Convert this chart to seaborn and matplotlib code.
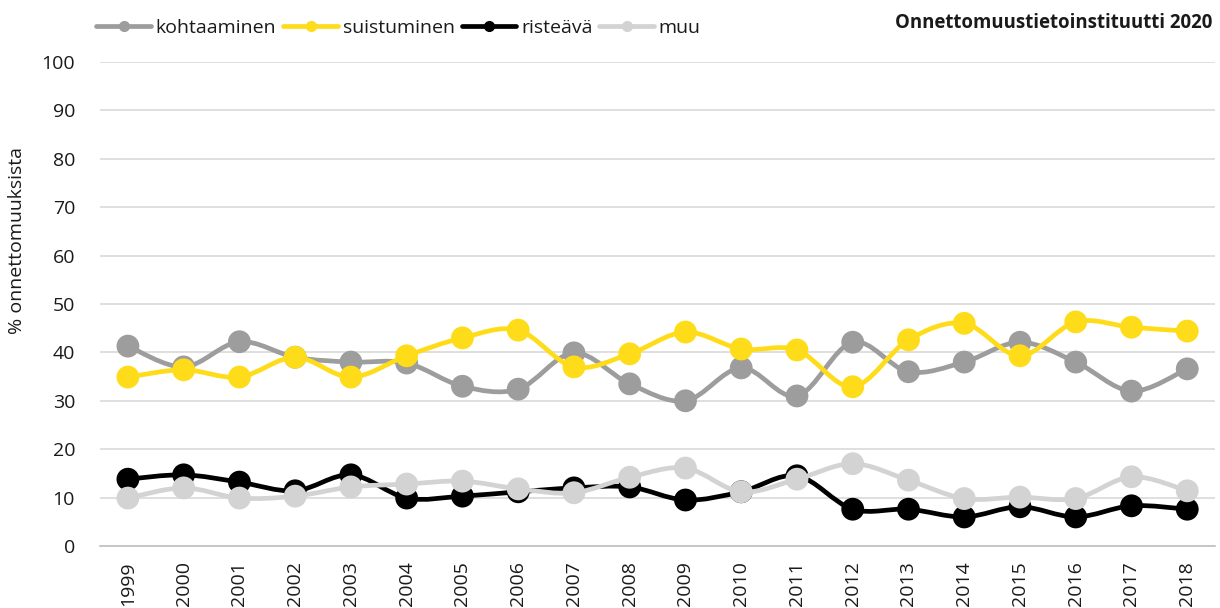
import numpy as np
import pandas as pd
import matplotlib
matplotlib.use("Agg")
import matplotlib.pyplot as plt
from matplotlib.path import Path
from matplotlib.patches import PathPatch
from matplotlib.lines import Line2D
import seaborn as sns

# Data
vuodet = [str(v) for v in range(1999, 2019)]
kohtaaminen = [41.3, 37.0, 42.2, 39.0, 38.0, 37.8, 33.0, 32.4, 39.9, 33.5,
               30.0, 36.8, 31.0, 42.1, 36.0, 38.0, 42.1, 38.0, 32.0, 36.6]
suistuminen = [34.9, 36.4, 34.9, 39.0, 34.9, 39.3, 43.0, 44.6, 37.0, 39.7,
               44.2, 40.7, 40.5, 32.9, 42.6, 46.0, 39.3, 46.3, 45.2, 44.4]
risteava = [13.8, 14.7, 13.2, 11.4, 14.7, 9.9, 10.3, 11.2, 12.0, 12.2,
            9.5, 11.2, 14.5, 7.6, 7.6, 6.0, 8.1, 6.0, 8.3, 7.6]
muu = [9.9, 12.0, 9.9, 10.3, 12.2, 12.8, 13.4, 11.8, 11.0, 14.2,
       16.1, 11.2, 13.8, 17.0, 13.6, 9.8, 10.1, 9.8, 14.3, 11.4]

sarjat = ["kohtaaminen", "suistuminen", "risteävä", "muu"]
varit = {"kohtaaminen": "#9d9d9d", "suistuminen": "#ffdc1a",
         "risteävä": "#000000", "muu": "#d3d3d3"}

df = pd.DataFrame({"vuosi": vuodet, "kohtaaminen": kohtaaminen,
                   "suistuminen": suistuminen, "risteävä": risteava, "muu": muu})
pitka = df.melt(id_vars="vuosi", var_name="tyyppi", value_name="osuus")

sns.set_style("white")
plt.rcParams['font.family'] = ['Open Sans', 'DejaVu Sans']
plt.rcParams['text.color'] = '#1a1a1a'

fig = plt.figure(figsize=(12.2, 6.08), dpi=100)
ax = fig.add_axes([0.082, 0.102, 0.914, 0.796])


def pehmea_polku(x, y):
    # Excel-tyylinen pehmennetty viiva Bezier-käyrinä
    x = np.asarray(x, float)
    y = np.asarray(y, float)
    verts = [(x[0], y[0])]
    codes = [Path.MOVETO]
    n = len(x)
    for i in range(n - 1):
        x0, y0 = (x[i - 1], y[i - 1]) if i > 0 else (x[i], y[i])
        x3, y3 = (x[i + 2], y[i + 2]) if i + 2 < n else (x[i + 1], y[i + 1])
        c1 = (x[i] + (x[i + 1] - x0) / 6, y[i] + (y[i + 1] - y0) / 6)
        c2 = (x[i + 1] - (x3 - x[i]) / 6, y[i + 1] - (y3 - y[i]) / 6)
        verts += [c1, c2, (x[i + 1], y[i + 1])]
        codes += [Path.CURVE4] * 3
    return Path(verts, codes)


xpos = np.arange(len(vuodet))
for j, s in enumerate(sarjat):
    polku = pehmea_polku(xpos, df[s].values)
    ax.add_patch(PathPatch(polku, facecolor="none", edgecolor=varit[s],
                           lw=3.4, zorder=2 + j * 2, capstyle="round"))
    osa = pitka[pitka["tyyppi"] == s]
    sns.scatterplot(data=osa, x="vuosi", y="osuus", color=varit[s], s=270,
                    edgecolor="none", ax=ax, zorder=3 + j * 2, legend=False)

ax.set_xlim(-0.5, len(vuodet) - 0.5)
ax.set_ylim(0, 100)
ax.set_yticks(range(0, 101, 10))
ax.yaxis.grid(True, color="#d9d9d9", lw=1.2)
ax.set_axisbelow(True)
for sp in ["left", "right", "top"]:
    ax.spines[sp].set_visible(False)
ax.spines["bottom"].set_color("#bfbfbf")
ax.spines["bottom"].set_linewidth(1.2)
ax.tick_params(axis="x", rotation=90, labelsize=14, length=0, pad=11,
               labelcolor="#1a1a1a")
ax.tick_params(axis="y", labelsize=14, length=0, pad=18, labelcolor="#1a1a1a")
ax.set_xlabel("")
ax.set_ylabel("% onnettomuuksista", fontsize=14, color="#1a1a1a")
ax.yaxis.set_label_coords(-0.066, 0.632)

kahvat = [Line2D([0], [0], color=varit[s], lw=3.4, marker="o", markersize=7)
          for s in sarjat]
fig.legend(kahvat, sarjat, loc="center left", bbox_to_anchor=(0.079, 0.954),
           ncol=4, frameon=False, fontsize=14, handlelength=2.8,
           handletextpad=0.25, columnspacing=0.36, borderpad=0,
           borderaxespad=0)
fig.text(0.9935, 0.962, "Onnettomuustietoinstituutti 2020", ha="right",
         va="center", fontsize=13.4, fontweight="bold")

fig.savefig("out.png", dpi=100)
